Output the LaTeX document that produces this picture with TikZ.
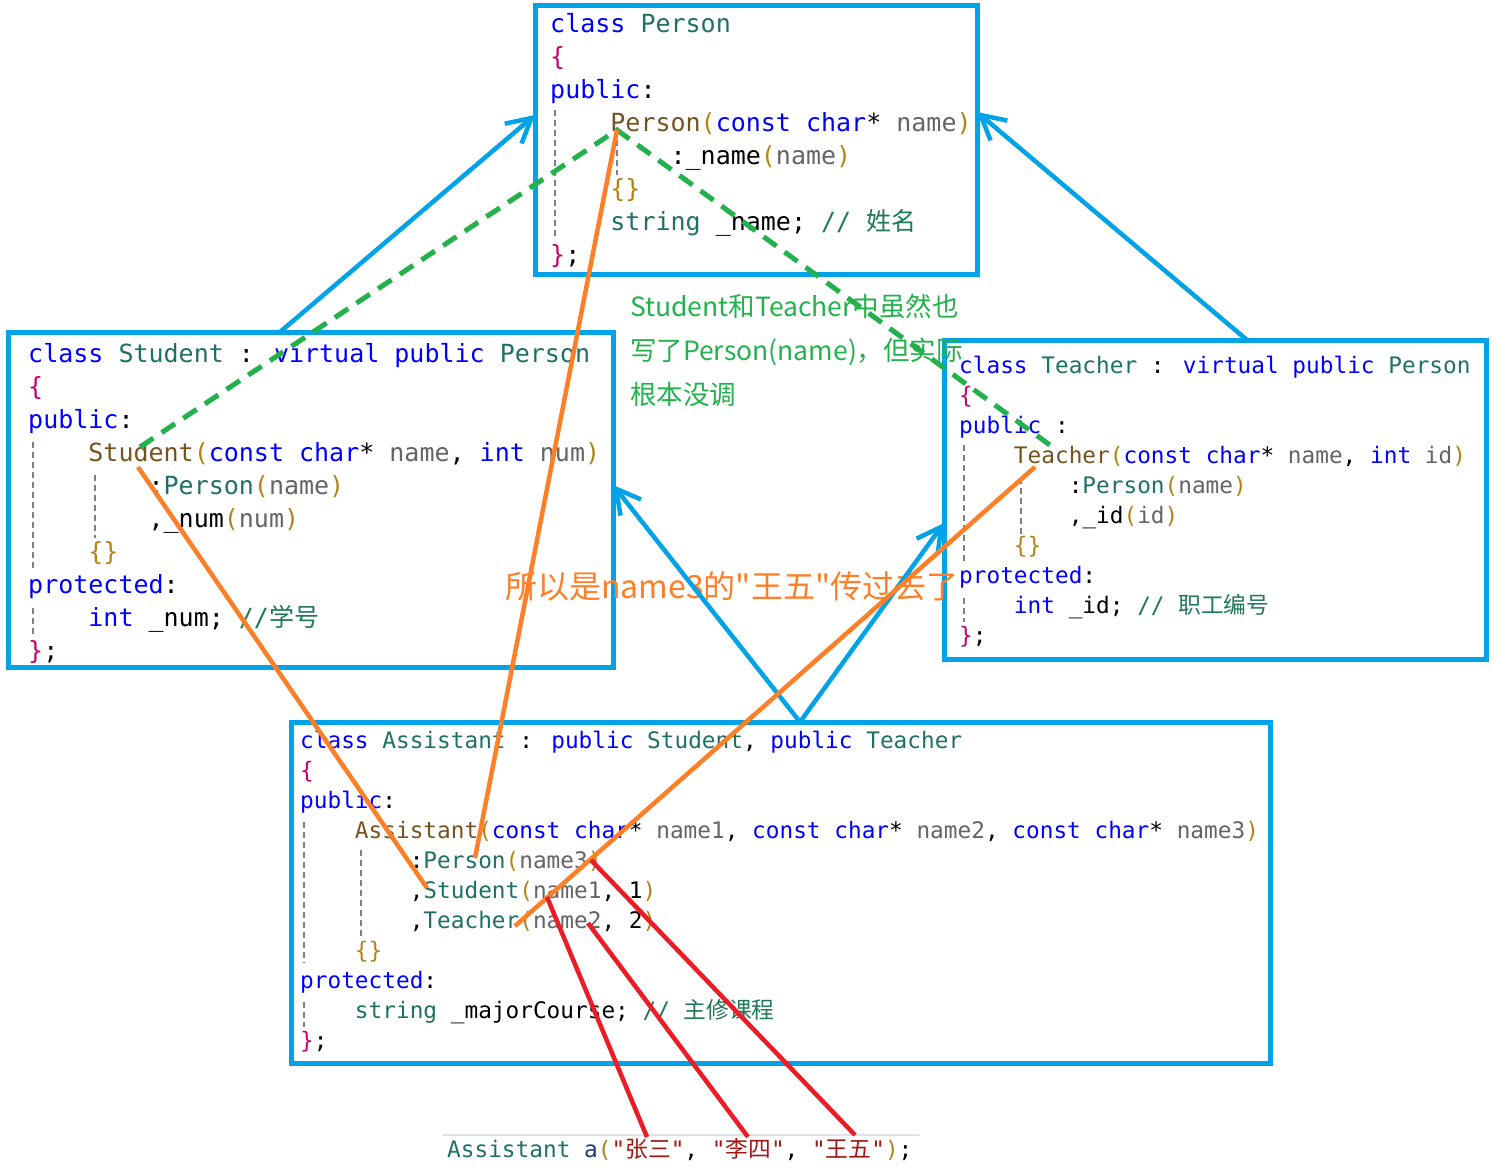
\documentclass[tikz,border=0pt]{standalone}
\usepackage{fontspec}
\newfontfamily\codefont{DejaVu Sans Mono}
\newfontfamily\cjk{Noto Sans CJK SC}
\usetikzlibrary{arrows.meta}

\definecolor{frameblue}{RGB}{0,162,232}
\definecolor{notegreen}{RGB}{34,177,76}
\definecolor{noteorange}{RGB}{255,127,39}
\definecolor{argred}{RGB}{237,28,36}
\definecolor{kwblue}{RGB}{0,0,255}
\definecolor{typeteal}{RGB}{31,112,102}
\definecolor{fnbrown}{RGB}{116,83,31}
\definecolor{pargray}{RGB}{100,100,100}
\definecolor{parengold}{RGB}{180,130,20}
\definecolor{bracered}{RGB}{200,0,110}
\definecolor{commentgreen}{RGB}{30,120,90}
\definecolor{strred}{RGB}{163,21,21}
\definecolor{varblue}{RGB}{31,55,127}

\newcommand\ckw[1]{\textcolor{kwblue}{#1}}
\newcommand\cty[1]{\textcolor{typeteal}{#1}}
\newcommand\cfn[1]{\textcolor{fnbrown}{#1}}
\newcommand\cpa[1]{\textcolor{pargray}{#1}}
\newcommand\cpn[1]{\textcolor{parengold}{#1}}
\newcommand\cbr[1]{\textcolor{bracered}{#1}}
\newcommand\ccm[1]{\textcolor{commentgreen}{#1}}
\newcommand\cst[1]{\textcolor{strred}{#1}}
\newcommand\clv[1]{\textcolor{varblue}{#1}}
\newcommand\ind{\phantom{xxxx}}

\begin{document}
\begin{tikzpicture}[
    x=1pt, y=-1pt,
    box/.style={draw=frameblue, line width=5pt, rectangle, anchor=north west, inner sep=0pt, outer sep=0pt},
    code/.style={anchor=base west, align=left, inner sep=0pt, font=\codefont\fontsize{25}{33}\selectfont},
    codesm/.style={code, font=\codefont\fontsize{22.75}{30}\selectfont},
    guide/.style={draw=gray, line width=1.5pt, dash pattern=on 6pt off 4pt},
    inh/.style={draw=frameblue, line width=4.5pt, -{Straight Barb[length=24pt,width=26pt]}},
    skip/.style={draw=notegreen, line width=5pt, dash pattern=on 16pt off 10pt},
    call/.style={draw=noteorange, line width=4.5pt},
    arg/.style={draw=argred, line width=4.5pt}
  ]
  \useasboundingbox (0,0) rectangle (1494,1171);

  % class boxes
  \node[box, minimum width=442pt, minimum height=269pt] (pe) at (535,5) {};
  \node[box, minimum width=605pt, minimum height=335pt] (st) at (8,332) {};
  \node[box, minimum width=542pt, minimum height=319pt] (te) at (944,340) {};
  \node[box, minimum width=979pt, minimum height=341pt] (as) at (291,722) {};

  % code (placed by the baseline of the last line)
  \node[code] (peCode) at (550,263) {%
    \ckw{class} \cty{Person}\\
    \cbr{\{}\\
    \ckw{public}:\\
    \ind\cfn{Person}\cpn{(}\ckw{const} \ckw{char}* \cpa{name}\cpn{)}\\
    \ind\ind:\_name\cpn{(}\cpa{name}\cpn{)}\\
    \ind\cpn{\{\}}\\
    \ind\cty{string} \_name; \ccm{// {\cjk 姓名}}\\
    \cbr{\}};};
  \node[code] (stCode) at (28,659) {%
    \ckw{class} \cty{Student} : \ckw{virtual} \ckw{public} \cty{Person}\\
    \cbr{\{}\\
    \ckw{public}:\\
    \ind\cfn{Student}\cpn{(}\ckw{const} \ckw{char}* \cpa{name}, \ckw{int} \cpa{num}\cpn{)}\\
    \ind\ind:\cty{Person}\cpn{(}\cpa{name}\cpn{)}\\
    \ind\ind,\_num\cpn{(}\cpa{num}\cpn{)}\\
    \ind\cpn{\{\}}\\
    \ckw{protected}:\\
    \ind\ckw{int} \_num; \ccm{//{\cjk 学号}}\\
    \cbr{\}};};
  \node[codesm] (teCode) at (959,643) {%
    \ckw{class} \cty{Teacher} : \ckw{virtual} \ckw{public} \cty{Person}\\
    \cbr{\{}\\
    \ckw{public} :\\
    \ind\cfn{Teacher}\cpn{(}\ckw{const} \ckw{char}* \cpa{name}, \ckw{int} \cpa{id}\cpn{)}\\
    \ind\ind:\cty{Person}\cpn{(}\cpa{name}\cpn{)}\\
    \ind\ind,\_id\cpn{(}\cpa{id}\cpn{)}\\
    \ind\cpn{\{\}}\\
    \ckw{protected}:\\
    \ind\ckw{int} \_id; \ccm{// {\cjk 职工编号}}\\
    \cbr{\}};};
  \node[codesm] (asCode) at (300,1048) {%
    \ckw{class} \cty{Assistant} : \ckw{public} \cty{Student}, \ckw{public} \cty{Teacher}\\
    \cbr{\{}\\
    \ckw{public}:\\
    \ind\cfn{Assistant}\cpn{(}\ckw{const} \ckw{char}* \cpa{name1}, \ckw{const} \ckw{char}* \cpa{name2}, \ckw{const} \ckw{char}* \cpa{name3}\cpn{)}\\
    \ind\ind:\cty{Person}\cpn{(}\cpa{name3}\cpn{)}\\
    \ind\ind,\cty{Student}\cpn{(}\cpa{name1}, 1\cpn{)}\\
    \ind\ind,\cty{Teacher}\cpn{(}\cpa{name2}, 2\cpn{)}\\
    \ind\cpn{\{\}}\\
    \ckw{protected}:\\
    \ind\cty{string} \_majorCourse; \ccm{// {\cjk 主修课程}}\\
    \cbr{\}};};
  \draw[draw={rgb,255:red,225;green,225;blue,235}, line width=1.5pt] (443,1135) -- (920,1135);
  \node[codesm] (call) at (447,1157) {%
    \cty{Assistant} \clv{a}\cpn{(}\cst{"{\cjk 张三}"}, \cst{"{\cjk 李四}"}, \cst{"{\cjk 王五}"}\cpn{)};};

  % indent guides
  \foreach \x/\ya/\yb in {555/110/238, 617/140/175, 33/442/568, 33/608/638, 95/475/538,
                           964/445/562, 964/598/622, 1021/478/535,
                           304/822/963, 304/1002/1027, 361/850/937}
    \draw[guide] (\x,\ya) -- (\x,\yb);

  % notes
  \node[anchor=base west, align=left, inner sep=0pt, text=notegreen,
        font=\cjk\fontsize{26.5}{44}\selectfont] (noteSkip) at (630,404)
        {Student和Teacher中虽然也\\写了Person(name)，但实际\\根本没调};
  \node[anchor=base west, inner sep=0pt, text=noteorange,
        font=\cjk\fontsize{32}{38}\selectfont] (noteName) at (505,598)
        {所以是name3的"王五"传过去了};

  % token points
  \coordinate (pc) at (617,130);
  \coordinate (stA) at (140,447);
  \coordinate (stB) at (138,467);
  \coordinate (teA) at (1054,448);
  \coordinate (teB) at (1035,467);
  \coordinate (asP) at (475,858);
  \coordinate (asS) at (427,888);
  \coordinate (asT) at (515,926);
  \coordinate (n3) at (591,860);
  \coordinate (n1) at (547,897);
  \coordinate (n2) at (588,923);
  \coordinate (zs) at (647,1137);
  \coordinate (ls) at (748,1137);
  \coordinate (ww) at (855,1135);

  % inheritance
  \draw[inh] ([xshift=-30.5pt]st.north) -- ([yshift=24.5pt]pe.west);
  \draw[inh] ([xshift=32pt]te.north) -- ([yshift=27.5pt]pe.east);
  \draw[inh] ([xshift=19.5pt]as.north) -- ([yshift=14.5pt]st.east);
  \draw[inh] ([xshift=19.5pt]as.north) -- ([yshift=-23.5pt]te.west);

  % constructor calls
  \draw[skip] (stA) -- (pc) -- (teA);
  \draw[call] (pc) -- (asP);
  \draw[call] (stB) -- (asS);
  \draw[call] (teB) -- (asT);

  % arguments
  \draw[arg] (n3) -- (ww);
  \draw[arg] (n1) -- (zs);
  \draw[arg] (n2) -- (ls);
\end{tikzpicture}
\end{document}
